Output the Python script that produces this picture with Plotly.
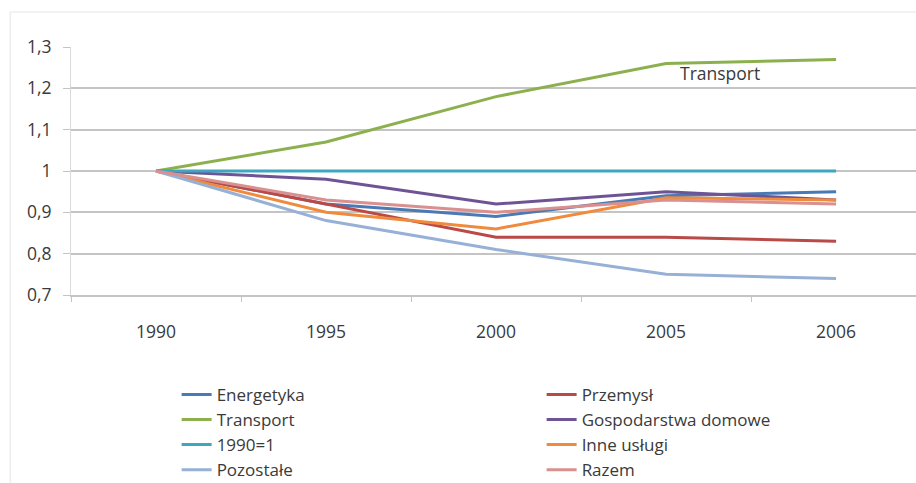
import plotly.graph_objects as go

# Emission index by sector, 1990 = 1
years = ["1990", "1995", "2000", "2005", "2006"]

energetyka = [1.00, 0.92, 0.89, 0.94, 0.95]
przemysl = [1.00, 0.92, 0.84, 0.84, 0.83]
transport = [1.00, 1.07, 1.18, 1.26, 1.27]
gospodarstwa = [1.00, 0.98, 0.92, 0.95, 0.93]
baseline = [1.00, 1.00, 1.00, 1.00, 1.00]
inne_uslugi = [1.00, 0.90, 0.86, 0.935, 0.93]
pozostale = [1.00, 0.88, 0.81, 0.75, 0.74]
razem = [1.00, 0.93, 0.90, 0.93, 0.92]

series = [
    ("Energetyka", energetyka, "#4a7ab5"),
    ("Przemysł", przemysl, "#b94a48"),
    ("Transport", transport, "#8db04f"),
    ("Gospodarstwa domowe", gospodarstwa, "#6f5495"),
    ("1990=1", baseline, "#3fa6bf"),
    ("Inne usługi", inne_uslugi, "#f08a3c"),
    ("Pozostałe", pozostale, "#97b0d6"),
    ("Razem", razem, "#d9908f"),
]

FONT = "Open Sans"
TEXT = "#3a3a3a"
GRID = "#c4c4c4"

fig = go.Figure()
for name, vals, color in series:
    fig.add_trace(go.Scatter(
        x=years, y=vals, name=name, mode="lines",
        line=dict(color=color, width=3),
    ))

# inline label next to the transport line
fig.add_annotation(
    x=3.32, y=1.237, xref="x", yref="y", text="Transport",
    showarrow=False, font=dict(family=FONT, size=17.5, color=TEXT),
)

# faint outer frame of the chart
fig.add_shape(
    type="rect", xref="paper", yref="paper",
    x0=-0.072, x1=1.2, y0=-0.9, y1=1.141,
    line=dict(color="#e6e6e6", width=1), fillcolor="rgba(0,0,0,0)",
    layer="below",
)

fig.update_layout(
    width=916, height=483,
    margin=dict(l=71, r=0, t=47, b=188, autoexpand=False),
    paper_bgcolor="white", plot_bgcolor="white",
    separators=", ",
    font=dict(family=FONT, size=17.5, color=TEXT),
    showlegend=True,
    legend=dict(
        orientation="h",
        x=0.125, y=-0.33, xanchor="left", yanchor="top",
        entrywidth=320, entrywidthmode="pixels",
        font=dict(family=FONT, size=17, color=TEXT),
        bgcolor="rgba(0,0,0,0)",
        traceorder="normal",
    ),
    xaxis=dict(
        type="category",
        range=[-0.5, 4.47],
        showgrid=False,
        showline=True, linecolor=GRID, linewidth=1.5,
        ticks="outside", tickson="boundaries", ticklen=5, tickcolor=GRID,
        ticklabelstandoff=20,
        tickfont=dict(family=FONT, size=17.5, color=TEXT),
        zeroline=False,
    ),
    yaxis=dict(
        range=[0.7, 1.3],
        dtick=0.1, tick0=0.7,
        tickformat=".1~f",
        showgrid=True, gridcolor=GRID, gridwidth=1.5,
        showline=True, linecolor="#d9d9d9", linewidth=1,
        ticks="outside", ticklen=7, tickcolor=GRID,
        ticklabelstandoff=8,
        tickfont=dict(family=FONT, size=17.5, color=TEXT),
        zeroline=False,
    ),
)

fig.write_html("out.html")
